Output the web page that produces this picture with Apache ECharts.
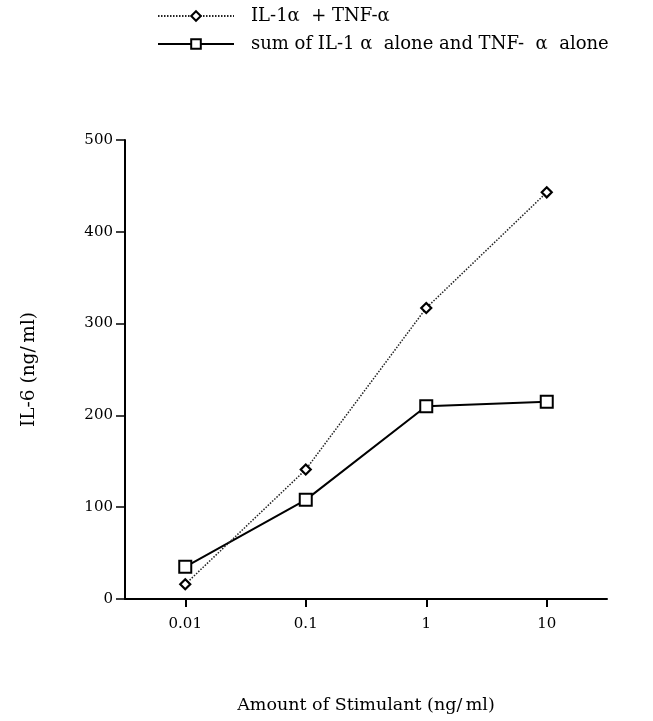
<!DOCTYPE html>
<html>
<head>
<meta charset="utf-8">
<script src="https://cdn.jsdelivr.net/npm/echarts@6/dist/echarts.min.js"></script>
<style>
html,body{margin:0;padding:0;background:#fff;}
#c{width:653px;height:721px;}
</style>
</head>
<body>
<div id="c"></div>
<script>
const doses = [0.01, 0.1, 1, 10];
const tickLabels = ['0.01', '0.1', '1', '10'];
const combined = [16, 141, 317, 443];
const sumAlone = [35, 108, 210, 215];
const seriesNames = ['IL-1\u03b1  + TNF-\u03b1', 'sum of IL-1 \u03b1  alone and TNF-  \u03b1  alone'];

const font = '"DejaVu Serif", "Liberation Serif", serif';
const chart = echarts.init(document.getElementById('c'));
chart.setOption({
  animation: false,
  backgroundColor: '#fff',
  textStyle: {fontFamily: font, color: '#000'},
  legend: {
    orient: 'vertical',
    left: 152,
    top: 2,
    itemWidth: 76,
    itemHeight: 12,
    itemGap: 10,
    textStyle: {fontFamily: font, fontSize: 18, color: '#000', padding: [0, 0, 0, 12]},
    data: seriesNames
  },
  grid: {left: 125, right: 46, top: 140, bottom: 122},
  xAxis: {
    type: 'log',
    logBase: 10,
    min: 0.01 / Math.sqrt(10),
    max: 10 * Math.sqrt(10),
    name: 'Amount of Stimulant (ng/\u2009ml)',
    nameLocation: 'middle',
    nameGap: 97,
    nameTextStyle: {fontFamily: font, fontSize: 17.5, color: '#000'},
    axisLine: {lineStyle: {color: '#000', width: 2}},
    axisTick: {show: true, length: 8, lineStyle: {color: '#000', width: 2}, customValues: doses},
    axisLabel: {
      customValues: doses,
      margin: 18,
      fontFamily: font, fontSize: 15, color: '#000',
      formatter: function (v) {
        const i = doses.findIndex(d => Math.abs(d - v) / d < 1e-6);
        return i >= 0 ? tickLabels[i] : '';
      }
    },
    splitLine: {show: false}
  },
  yAxis: {
    type: 'value',
    min: 0,
    max: 500,
    interval: 100,
    name: 'IL-6 (ng/\u2009ml)',
    nameLocation: 'middle',
    nameRotate: 90,
    nameGap: 86,
    nameTextStyle: {fontFamily: font, fontSize: 18.5, color: '#000'},
    axisLine: {show: true, lineStyle: {color: '#000', width: 2}},
    axisTick: {show: true, length: 9, lineStyle: {color: '#000', width: 1.5}},
    axisLabel: {margin: 12, fontFamily: font, fontSize: 15, color: '#000'},
    splitLine: {show: false}
  },
  series: [
    {
      name: seriesNames[0],
      type: 'line',
      data: doses.map((d, i) => [d, combined[i]]),
      symbol: 'diamond',
      symbolSize: [10, 10],
      lineStyle: {color: '#222', width: 1.5, type: [1.5, 1.5]},
      itemStyle: {color: '#fff', borderColor: '#000', borderWidth: 2.2},
      z: 3
    },
    {
      name: seriesNames[1],
      type: 'line',
      data: doses.map((d, i) => [d, sumAlone[i]]),
      symbol: 'rect',
      symbolSize: 12,
      lineStyle: {color: '#000', width: 2},
      itemStyle: {color: '#fff', borderColor: '#000', borderWidth: 2},
      z: 2
    }
  ]
});
</script>
</body>
</html>
